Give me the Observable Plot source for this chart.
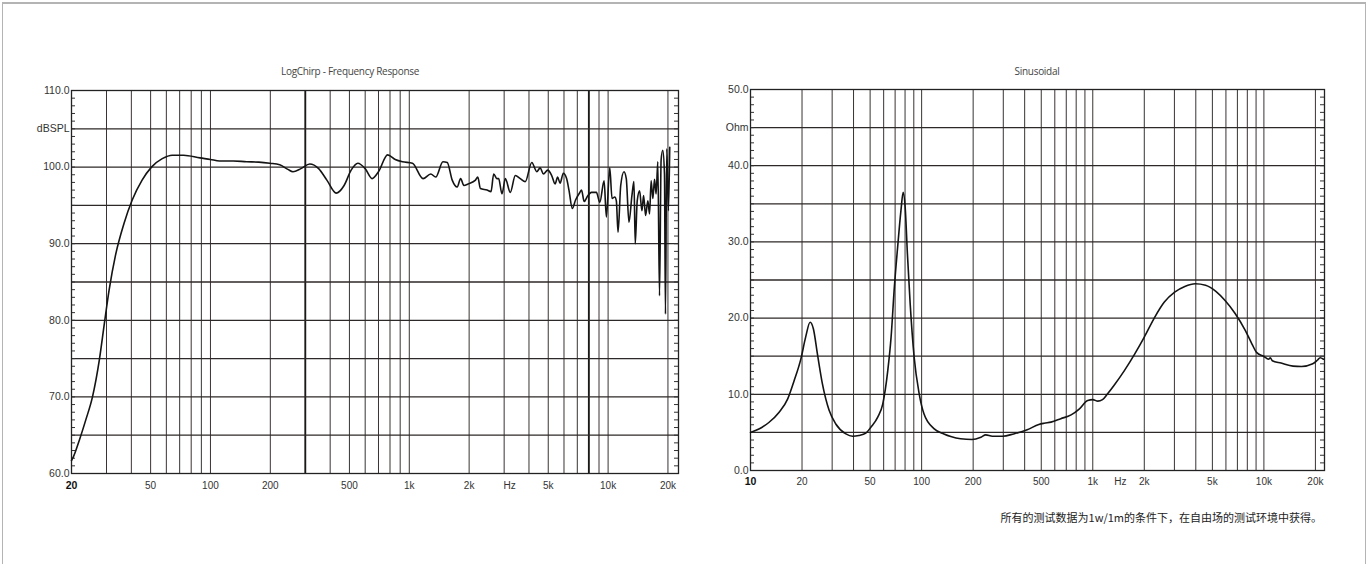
<!DOCTYPE html>
<html><head><meta charset="utf-8">
<script src="https://cdn.jsdelivr.net/npm/d3@7"></script>
<script src="https://cdn.jsdelivr.net/npm/@observablehq/plot@0.6"></script>
<style>
body{margin:0;background:#fff;width:1368px;height:564px;overflow:hidden;position:relative;font-family:"Liberation Sans",Arial,sans-serif}
#frame{position:absolute;left:2px;top:2px;width:1362px;height:640px;border:1px solid #b4b4b4;border-top:2px solid #b4b4b4}
.title{position:absolute;top:65px;font-family:"Open Sans",sans-serif;font-size:10px;letter-spacing:-0.3px;color:#444;white-space:nowrap;transform:translateX(-50%);line-height:12px}
#caption{position:absolute;right:46px;top:510px;font-family:"Noto Sans CJK SC",sans-serif;font-size:11px;color:#222;line-height:14px;white-space:nowrap}
.chart{position:absolute;top:60px}
</style></head>
<body>
<div id="frame"></div>
<div class="title" style="left:350px">LogChirp - Frequency Response</div>
<div class="title" style="left:1037px">Sinusoidal</div>
<div id="left" class="chart" style="left:0px"></div>
<div id="right" class="chart" style="left:680px"></div>
<div id="caption">所有的测试数据为1w/1m的条件下，在自由场的测试环境中获得。</div>
<script>
// ---------- Frequency response (dBSPL) ----------
const splFreq = [20, 20.3, 21.9, 23.6, 25.5, 27.6, 29.2, 30.9, 33.3, 36.7, 40.4, 45.3, 50.5, 57.2, 64.2, 73.3,
  88.6, 100, 111, 130, 152, 175, 199, 223, 245, 260, 285, 316, 350, 385, 429, 470, 510, 551, 600, 650, 700, 778, 850, 924,
  1037, 1173, 1282, 1358, 1477, 1552, 1644, 1742, 1812, 1882, 1977, 2153, 2210, 2280, 2460, 2577, 2658, 2761,
  2816, 2926, 3042, 3222, 3414, 3616, 3830, 4132, 4378, 4554, 4730, 4970, 5204, 5412, 5576, 5732, 5954, 6184,
  6356, 6604, 6860, 7216, 7350, 7582, 7876, 8246, 8736, 9084, 9546, 9802, 10194, 10468, 10802, 11002, 11220,
  11574, 12022, 12344, 12734, 13182, 13490, 13692, 14012, 14404, 14792, 15086, 15436, 15850, 16164, 16464,
  16790, 17122, 17442, 17786, 18138, 18476, 18838, 19212, 19432, 19726, 20116, 20420];
const splDb = [61.7, 62.0, 64.35, 67.0, 70.0, 74.8, 79.4, 83.9, 88.5, 92.6, 95.7, 98.3, 100.0, 101.1, 101.55, 101.55,
  101.2, 101.0, 100.8, 100.8, 100.7, 100.65, 100.5, 100.3, 99.7, 99.4, 99.8, 100.4, 99.8, 98.3, 96.6, 97.6, 99.6, 100.5, 99.8, 98.5, 99.4, 101.6, 101.0, 100.7,
  100.5, 98.5, 99.1, 98.7, 100.7, 100.6, 98.3, 97.4, 98.5, 97.6, 97.8, 98.3, 98.7, 97.2, 97.0, 96.8, 99.1, 98.5,
  98.5, 96.5, 98.5, 96.7, 98.9, 98.5, 98.1, 100.6, 99.4, 99.9, 99.1, 99.6, 98.9, 97.8, 98.7, 97.9, 99.2, 98.5,
  97.0, 94.6, 95.7, 96.7, 97.0, 95.5, 96.2, 96.7, 96.7, 95.4, 98.2, 93.5, 99.9, 95.9, 96.1, 95.6, 91.5,
  97.6, 99.4, 98.5, 92.8, 96.3, 98.1, 90.0, 95.6, 96.9, 94.3, 96.3, 93.7, 95.6, 93.9, 98.2,
  95.9, 98.4, 96.5, 100.7, 83.2, 100.9, 102.2, 99.1, 80.8, 102.4, 94.3, 102.6];

// ---------- Impedance (Ohm) ----------
const impFreq = [10, 11.2, 12.8, 14.7, 16.5, 18.0, 19.7, 21.0, 22.3, 23.3, 24.6, 26.3, 28.8, 31.5, 36.1, 39.5, 43, 47.2,
  50.6, 55.4, 59.3, 63.4, 66.3, 69.3, 72.4, 75.7, 78.0, 80.1, 82.6, 85.7, 90.4, 96.7, 103.3, 118, 135, 148, 169, 197,
  222, 237, 259, 297, 345, 414, 484, 520, 570, 650, 747, 836, 934, 1000, 1070, 1140, 1224, 1330, 1530, 1760, 2000,
  2300, 2620, 3010, 3450, 3970, 4560, 5240, 5930, 6790, 7780, 8520, 9060, 9950, 10650, 10900, 11200, 12600, 14800,
  16600, 19300, 20600, 21300, 22300];
const impOhm = [5.0, 5.45, 6.3, 7.65, 9.4, 11.8, 14.65, 17.5, 19.45, 18.6, 15.3, 11.4, 7.9, 6.1, 4.8, 4.5, 4.6, 4.9,
  5.7, 7.0, 8.75, 13.1, 17.5, 24.1, 29.3, 34.1, 36.5, 34.6, 28.4, 21.9, 14.9, 10.1, 7.4, 5.5, 4.8, 4.46, 4.16, 4.07,
  4.37, 4.68, 4.5, 4.5, 4.8, 5.34, 6.04, 6.2, 6.35, 6.8, 7.3, 8.1, 9.2, 9.3, 9.1, 9.3, 10.1, 11.15, 13.1, 15.3, 17.5,
  20.1, 22.1, 23.4, 24.15, 24.5, 24.3, 23.5, 22.3, 20.6, 18.4, 16.6, 15.5, 15.0, 14.6, 14.8, 14.4, 14.1, 13.7,
  13.65, 14.0, 14.5, 14.8, 14.6];

// ---------- Axes / grids ----------
const leftGridFreq = [30, 40, 50, 60, 70, 80, 90, 100, 200, 300, 400, 500, 600, 700, 800, 900,
  1000, 2000, 3000, 4000, 5000, 6000, 7000, 8000, 9000, 10000, 20000];
const leftStrongGrid = [300, 8000];
const leftGridDb = [65, 70, 75, 80, 85, 90, 95, 100, 105];
const leftYTicks = [60, 70, 80, 90, 100, 105, 110];
const leftYLabels = ["60.0", "70.0", "80.0", "90.0", "100.0", "dBSPL", "110.0"];
const leftXTicks = [50, 100, 200, 500, 1000, 2000, 3200, 5000, 10000, 20000];
const leftXLabels = ["50", "100", "200", "500", "1k", "2k", "Hz", "5k", "10k", "20k"];
const leftFirstTick = [20];

const rightGridFreq = [20, 30, 40, 50, 60, 70, 80, 90, 100, 200, 300, 400, 500, 600, 700, 800, 900,
  1000, 2000, 3000, 4000, 5000, 6000, 7000, 8000, 9000, 10000, 20000];
const rightGridOhm = [5, 10, 15, 20, 25, 30, 35, 40, 45];
const rightYTicks = [0, 10, 20, 30, 40, 45, 50];
const rightYLabels = ["0.0", "10.0", "20.0", "30.0", "40.0", "Ohm", "50.0"];
const rightXTicks = [20, 50, 100, 200, 500, 1000, 1450, 2000, 5000, 10000, 20000];
const rightXLabels = ["20", "50", "100", "200", "500", "1k", "Hz", "2k", "5k", "10k", "20k"];
const rightFirstTick = [10];

const leftMinor = d3.range(61, 110);
const rightMinor = d3.range(1, 50);

const splData = splFreq.map((f, i) => ({f, v: splDb[i]}));
const impData = impFreq.map((f, i) => ({f, v: impOhm[i]}));

const gridColor = "#3a3333";
const lineColor = "#141414";
const baseStyle = {fontFamily: "'Liberation Sans', Arial, sans-serif", fontSize: "10px", color: "#333", background: "transparent", overflow: "visible"};

function chart({width, height, mL, mR, mT, mB, xDomain, yDomain, gridF, strongF, gridY, minor, yTicks, yLabels,
                xTicks, xLabels, firstTick, data, dyX}) {
  const pw = width - mL - mR;
  const xl = xTicks.map((t, i) => ({t, s: xLabels[i]}));
  return Plot.plot({
    width, height, marginLeft: mL, marginRight: mR, marginTop: mT, marginBottom: mB,
    x: {type: "log", domain: xDomain, axis: null},
    y: {domain: yDomain, axis: null},
    style: baseStyle,
    marks: [
      Plot.ruleX(gridF, {stroke: gridColor, strokeWidth: 1}),
      strongF ? Plot.ruleX(strongF, {stroke: "#1c1818", strokeWidth: 1.8}) : null,
      Plot.ruleY(gridY, {stroke: "#2e2929", strokeWidth: 1.3}),
      Plot.ruleY(minor, {insetRight: pw - 4, stroke: "#333", strokeWidth: 1}),
      Plot.ruleY(minor, {insetLeft: pw - 4, stroke: "#333", strokeWidth: 1}),
      Plot.axisY(yTicks, {anchor: "left", tickSize: 0, tickPadding: 2, label: null, fontSize: 10.5,
        tickFormat: d => yLabels[yTicks.indexOf(d)]}),
      Plot.text(xl, {x: "t", text: "s", frameAnchor: "bottom", dy: dyX, fontSize: 10, fill: "#333"}),
      Plot.text(firstTick, {x: d => d, text: d => String(d), frameAnchor: "bottom", dy: dyX, fontSize: 10.5,
        fontWeight: "bold", fill: "#111"}),
      Plot.frame({stroke: "#222", strokeWidth: 1.3}),
      Plot.line(data, {x: "f", y: "v", curve: "monotone-x", stroke: lineColor, strokeWidth: 1.6})
    ]
  });
}

document.getElementById("left").append(chart({
  width: 700, height: 440, mL: 71, mR: 22, mT: 30, mB: 27,
  xDomain: [20, 22600], yDomain: [60, 110],
  gridF: leftGridFreq, strongF: leftStrongGrid, gridY: leftGridDb, minor: leftMinor,
  yTicks: leftYTicks, yLabels: leftYLabels, xTicks: leftXTicks, xLabels: leftXLabels,
  firstTick: leftFirstTick, data: splData, dyX: 15
}));

document.getElementById("right").append(chart({
  width: 680, height: 440, mL: 70, mR: 36, mT: 29, mB: 30,
  xDomain: [10, 22600], yDomain: [0, 50],
  gridF: rightGridFreq, strongF: null, gridY: rightGridOhm, minor: rightMinor,
  yTicks: rightYTicks, yLabels: rightYLabels, xTicks: rightXTicks, xLabels: rightXLabels,
  firstTick: rightFirstTick, data: impData, dyX: 14
}));
</script>
</body></html>
